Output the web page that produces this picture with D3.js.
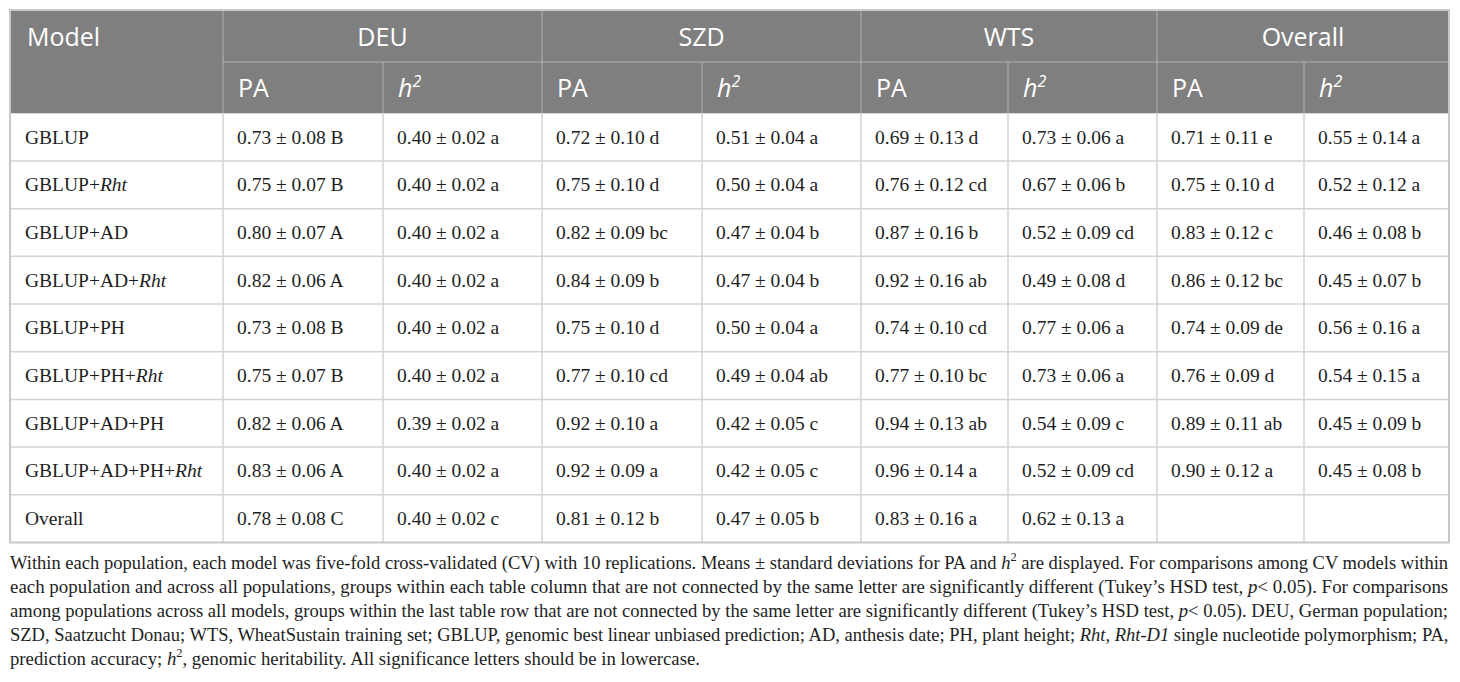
<!DOCTYPE html>
<html>
<head>
<meta charset="utf-8">
<script src="https://cdn.jsdelivr.net/npm/d3@7"></script>
<style>
  html, body { margin: 0; padding: 0; background: #fff; }
  svg { display: block; }
</style>
</head>
<body>
<svg id="table"></svg>
<script>

// table content
var models = ["GBLUP", "GBLUP+Rht", "GBLUP+AD", "GBLUP+AD+Rht", "GBLUP+PH",
              "GBLUP+PH+Rht", "GBLUP+AD+PH", "GBLUP+AD+PH+Rht", "Overall"]
var populations = ["DEU", "SZD", "WTS", "Overall"]
var measures = ["PA", "h2"]

var deuPA = ["0.73 ± 0.08 B", "0.75 ± 0.07 B", "0.80 ± 0.07 A", "0.82 ± 0.06 A", "0.73 ± 0.08 B",
             "0.75 ± 0.07 B", "0.82 ± 0.06 A", "0.83 ± 0.06 A", "0.78 ± 0.08 C"]
var deuH2 = ["0.40 ± 0.02 a", "0.40 ± 0.02 a", "0.40 ± 0.02 a", "0.40 ± 0.02 a", "0.40 ± 0.02 a",
             "0.40 ± 0.02 a", "0.39 ± 0.02 a", "0.40 ± 0.02 a", "0.40 ± 0.02 c"]
var szdPA = ["0.72 ± 0.10 d", "0.75 ± 0.10 d", "0.82 ± 0.09 bc", "0.84 ± 0.09 b", "0.75 ± 0.10 d",
             "0.77 ± 0.10 cd", "0.92 ± 0.10 a", "0.92 ± 0.09 a", "0.81 ± 0.12 b"]
var szdH2 = ["0.51 ± 0.04 a", "0.50 ± 0.04 a", "0.47 ± 0.04 b", "0.47 ± 0.04 b", "0.50 ± 0.04 a",
             "0.49 ± 0.04 ab", "0.42 ± 0.05 c", "0.42 ± 0.05 c", "0.47 ± 0.05 b"]
var wtsPA = ["0.69 ± 0.13 d", "0.76 ± 0.12 cd", "0.87 ± 0.16 b", "0.92 ± 0.16 ab", "0.74 ± 0.10 cd",
             "0.77 ± 0.10 bc", "0.94 ± 0.13 ab", "0.96 ± 0.14 a", "0.83 ± 0.16 a"]
var wtsH2 = ["0.73 ± 0.06 a", "0.67 ± 0.06 b", "0.52 ± 0.09 cd", "0.49 ± 0.08 d", "0.77 ± 0.06 a",
             "0.73 ± 0.06 a", "0.54 ± 0.09 c", "0.52 ± 0.09 cd", "0.62 ± 0.13 a"]
var allPA = ["0.71 ± 0.11 e", "0.75 ± 0.10 d", "0.83 ± 0.12 c", "0.86 ± 0.12 bc", "0.74 ± 0.09 de",
             "0.76 ± 0.09 d", "0.89 ± 0.11 ab", "0.90 ± 0.12 a", ""]
var allH2 = ["0.55 ± 0.14 a", "0.52 ± 0.12 a", "0.46 ± 0.08 b", "0.45 ± 0.07 b", "0.56 ± 0.16 a",
             "0.54 ± 0.15 a", "0.45 ± 0.09 b", "0.45 ± 0.08 b", ""]

// caption lines, [text, style] pieces (i = italic, s = superscript)
var captionLines = [
  [["Within each population, each model was five-fold cross-validated (CV) with 10 replications. Means ± standard deviations for PA and "], ["h", "i"], ["2", "s"], [" are displayed. For comparisons among CV models within"]],
  [["each population and across all populations, groups within each table column that are not connected by the same letter are significantly different (Tukey’s HSD test, "], ["p", "i"], ["< 0.05). For comparisons"]],
  [["among populations across all models, groups within the last table row that are not connected by the same letter are significantly different (Tukey’s HSD test, "], ["p", "i"], ["< 0.05). DEU, German population;"]],
  [["SZD, Saatzucht Donau; WTS, WheatSustain training set; GBLUP, genomic best linear unbiased prediction; AD, anthesis date; PH, plant height; "], ["Rht", "i"], [", "], ["Rht-D1", "i"], [" single nucleotide polymorphism; PA,"]],
  [["prediction accuracy; "], ["h", "i"], ["2", "s"], [", genomic heritability. All significance letters should be in lowercase."]]
]

var columnData = [deuPA, deuH2, szdPA, szdH2, wtsPA, wtsH2, allPA, allH2]

var dimensions = {
    width: 1460,
    height: 682,
    left: 10,
    right: 1449,
    top: 10,
    headSplit: 62,
    headBottom: 113.3,
    bottom: 542.5,
    pad: 15
}

// column edges (Model, then PA/h2 per population)
var colEdges = [10, 223, 383, 542, 702, 861, 1008, 1157, 1304, 1449]

var svg = d3.select("#table")
    .attr("width", dimensions.width)
    .attr("height", dimensions.height)

var yRow = d3.scaleBand()
    .domain(models)
    .range([dimensions.headBottom, dimensions.bottom])

var subKeys = []
populations.forEach(function(p){ measures.forEach(function(m){ subKeys.push(p + "|" + m) }) })

var xSub = d3.scaleOrdinal()
    .domain(subKeys)
    .range(colEdges.slice(1, 9))

var xPop = d3.scaleOrdinal()
    .domain(populations)
    .range([0, 2, 4, 6].map(function(i){ return [colEdges[i+1], colEdges[i+3]] }))

var headFont = "'Open Sans', sans-serif"
var bodyFont = "'Liberation Serif', 'Times New Roman', serif"

// header background
svg.append("rect")
    .attr("x", dimensions.left)
    .attr("y", dimensions.top)
    .attr("width", dimensions.right - dimensions.left)
    .attr("height", dimensions.headBottom - dimensions.top)
    .attr("fill", "#7f7f7f")

// header grid lines
var headLine = "#b3b3b3"
svg.append("line")
    .attr("x1", colEdges[1]).attr("x2", dimensions.right)
    .attr("y1", dimensions.headSplit).attr("y2", dimensions.headSplit)
    .attr("stroke", headLine).attr("stroke-width", 1)

svg.selectAll(".hv")
    .data(subKeys)
    .enter()
    .append("line")
    .attr("x1", function(d){ return xSub(d) })
    .attr("x2", function(d){ return xSub(d) })
    .attr("y1", function(d){ return d.endsWith("PA") ? dimensions.top : dimensions.headSplit })
    .attr("y2", dimensions.headBottom)
    .attr("stroke", headLine)
    .attr("stroke-width", 1)

// body grid lines
var bodyLine = "#d3d3d3"
svg.selectAll(".rowline")
    .data(models.slice(1))
    .enter()
    .append("line")
    .attr("x1", dimensions.left).attr("x2", dimensions.right)
    .attr("y1", function(d){ return yRow(d) })
    .attr("y2", function(d){ return yRow(d) })
    .attr("stroke", bodyLine)
    .attr("stroke-width", 1.5)

svg.selectAll(".colline")
    .data(subKeys)
    .enter()
    .append("line")
    .attr("x1", function(d){ return xSub(d) })
    .attr("x2", function(d){ return xSub(d) })
    .attr("y1", dimensions.headBottom)
    .attr("y2", dimensions.bottom)
    .attr("stroke", bodyLine)
    .attr("stroke-width", 1.5)

// outer frame
svg.append("rect")
    .attr("x", dimensions.left)
    .attr("y", dimensions.top)
    .attr("width", dimensions.right - dimensions.left)
    .attr("height", dimensions.bottom - dimensions.top)
    .attr("fill", "none")
    .attr("stroke", "#c8c8c8")
    .attr("stroke-width", 2)

// header texts
svg.append("text")
    .attr("x", dimensions.left + dimensions.pad + 2)
    .attr("y", 46)
    .attr("font-family", headFont)
    .attr("font-size", 25)
    .attr("fill", "#fff")
    .text("Model")

svg.selectAll(".pop")
    .data(populations)
    .enter()
    .append("text")
    .attr("x", function(d){ var r = xPop(d); return (r[0] + r[1]) / 2 })
    .attr("y", 46)
    .attr("text-anchor", "middle")
    .attr("font-family", headFont)
    .attr("font-size", 25)
    .attr("fill", "#fff")
    .text(function(d){ return d })

var subText = svg.selectAll(".sub")
    .data(subKeys)
    .enter()
    .append("text")
    .attr("x", function(d){ return xSub(d) + dimensions.pad })
    .attr("y", 97)
    .attr("font-family", headFont)
    .attr("font-size", 25)
    .attr("fill", "#fff")

subText.each(function(d){
    var t = d3.select(this)
    if (d.endsWith("PA")) {
        t.text("PA")
    } else {
        t.append("tspan").attr("font-style", "italic").text("h")
        t.append("tspan").attr("font-style", "italic").attr("font-size", 16).attr("dy", -10).text("2")
    }
})

// body: model names (Rht in italics)
var names = svg.selectAll(".model")
    .data(models)
    .enter()
    .append("text")
    .attr("x", dimensions.left + dimensions.pad)
    .attr("y", function(d){ return yRow(d) + yRow.bandwidth() / 2 + 6.5 })
    .attr("font-family", bodyFont)
    .attr("font-size", 19.5)
    .attr("fill", "#1e1e1e")

names.each(function(d){
    var t = d3.select(this)
    var parts = d.split("Rht")
    t.append("tspan").text(parts[0])
    if (parts.length > 1) t.append("tspan").attr("font-style", "italic").text("Rht")
})

// body: value cells
subKeys.forEach(function(key, ci){
    svg.selectAll(".c" + ci)
        .data(columnData[ci])
        .enter()
        .append("text")
        .attr("x", xSub(key) + dimensions.pad - 1)
        .attr("y", function(d, i){ return yRow(models[i]) + yRow.bandwidth() / 2 + 6.5 })
        .attr("font-family", bodyFont)
        .attr("font-size", 19.5)
        .attr("fill", "#1e1e1e")
        .text(function(d){ return d })
})

// caption: each line is squeezed horizontally to its width in the reference
var capWidths = [1439, 1439, 1439, 1439, 690]
captionLines.forEach(function(line, li){
    var g = svg.append("g")
    var t = g.append("text")
        .attr("x", 0)
        .attr("y", 0)
        .attr("font-family", bodyFont)
        .attr("font-size", 19.5)
        .attr("fill", "#1e1e1e")
    var raised = false
    line.forEach(function(piece){
        var s = t.append("tspan").text(piece[0])
        if (piece[1] === "i") s.attr("font-style", "italic")
        if (piece[1] === "s") {
            s.attr("font-size", 13).attr("dy", -8)
            raised = true
        } else if (raised) {
            s.attr("dy", 8)
            raised = false
        }
    })
    var w = t.node().getComputedTextLength()
    var k = capWidths[li] / w
    g.attr("transform", "translate(" + dimensions.left + "," + (569 + li * 24) + ") scale(" + k + ",1)")
})

</script>
</body>
</html>
